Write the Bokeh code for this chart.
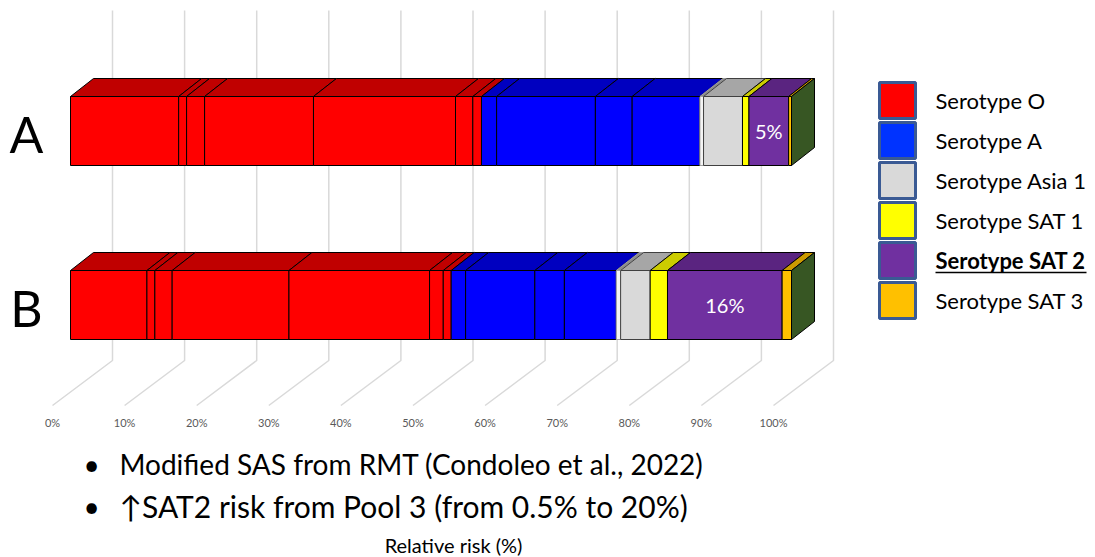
from bokeh.plotting import figure
from bokeh.models import Range1d
from bokeh.embed import file_html
from bokeh.resources import INLINE
from bokeh.core.properties import value

# ---------------- data ----------------
categories = ["A", "B"]
legend_labels = ["Serotype O", "Serotype A", "Serotype Asia 1",
                 "Serotype SAT 1", "Serotype SAT 2", "Serotype SAT 3"]

# stacked segment widths (% of relative risk), in stacking order
A_O = [15.0, 1.1, 2.5, 15.1, 19.7, 2.4, 1.2]
A_A = [2.1, 13.7, 5.1, 9.4]
A_gap = [0.5]
A_Asia1 = [5.4]
A_SAT1 = [0.9]
A_SAT2 = [5.5]
A_SAT3 = [0.4]

B_O = [10.6, 1.1, 2.4, 16.2, 19.5, 1.9, 1.1]
B_A = [2.0, 9.6, 4.1, 7.2]
B_gap = [0.6]
B_Asia1 = [4.1]
B_SAT1 = [2.4]
B_SAT2 = [15.9]
B_SAT3 = [1.3]

sat2_labels = ["5%", "16%"]
tick_values = [0, 10, 20, 30, 40, 50, 60, 70, 80, 90, 100]
tick_labels = ["0%", "10%", "20%", "30%", "40%", "50%", "60%", "70%", "80%", "90%", "100%"]
bullets = ["Modified SAS from RMT (Condoleo et al., 2022)",
           "\u2191SAT2 risk from Pool 3 (from 0.5% to 20%)"]
x_title = "Relative risk (%)"

# ---------------- styles ----------------
FRONT = {"O": "#FF0000", "A": "#0000FF", "gap": "#F4F4F4", "Asia1": "#D9D9D9",
         "SAT1": "#FFFF00", "SAT2": "#7030A0", "SAT3": "#FFC000"}
TOP = {"O": "#C00000", "A": "#0000C0", "gap": "#8C8C8C", "Asia1": "#A6A6A6",
       "SAT1": "#CCCC00", "SAT2": "#5A2480", "SAT3": "#CC9A00"}
EDGE = {"O": "black", "A": "black", "gap": "#A0A0A0", "Asia1": "#404040",
        "SAT1": "black", "SAT2": "black", "SAT3": "black"}
SIDE = "#375623"
LEG_COLORS = ["#FF0000", "#0033FF", "#D9D9D9", "#FFFF00", "#7030A0", "#FFC000"]
FONT = "Lato"

W, H = 1095, 557
PX_PER_X = 7.21      # pixels per 1 %
X0_PX = 70           # px of 0 %
PX_PER_Y = 174.0     # pixels per category unit
Y0_PX = 304.5        # px (from top) of category B centre


def xp(px):  # pixel -> x data
    return (px - X0_PX) / PX_PER_X


def yp(px):  # pixel (from top) -> y data
    return (Y0_PX - px) / PX_PER_Y


p = figure(width=W, height=H, output_backend="svg", toolbar_location=None,
           x_range=Range1d(xp(0), xp(W)), y_range=Range1d(yp(H), yp(0)),
           min_border=0, min_border_left=0, min_border_right=0,
           min_border_top=0, min_border_bottom=0)
p.axis.visible = False
p.grid.visible = False
p.outline_line_color = None
p.background_fill_color = "white"

# depth of the 3-D effect
DX = 23 / PX_PER_X
DY = 18 / PX_PER_Y
HALF = 34.5 / PX_PER_Y

# ---------------- back wall gridlines + floor ----------------
back_off = 42 / PX_PER_X
floor_dx = 60 / PX_PER_X
g_top, g_bot, g_front = yp(10), yp(360), yp(405)
gx, gy = [], []
for t in tick_values:
    gx.append([t + back_off, t + back_off, t + back_off - floor_dx])
    gy.append([g_top, g_bot, g_front])
p.multi_line(gx, gy, line_color="#D9D9D9", line_width=1.5)

p.text(x=[t + back_off - floor_dx for t in tick_values], y=[yp(422)] * len(tick_values),
       text=tick_labels, text_font=value(FONT), text_font_size="11px",
       text_color="#595959", text_align="center", text_baseline="middle")

# ---------------- bars ----------------
bars = {
    "A": [("O", A_O), ("A", A_A), ("gap", A_gap), ("Asia1", A_Asia1),
          ("SAT1", A_SAT1), ("SAT2", A_SAT2), ("SAT3", A_SAT3)],
    "B": [("O", B_O), ("A", B_A), ("gap", B_gap), ("Asia1", B_Asia1),
          ("SAT1", B_SAT1), ("SAT2", B_SAT2), ("SAT3", B_SAT3)],
}
ycent = {"A": 1.0, "B": 0.0}

for ci, cat in enumerate(categories):
    yc = ycent[cat]
    yb, yt = yc - HALF, yc + HALF
    left = 0.0
    L, R, FC, TC, EC = [], [], [], [], []
    sat2_mid = None
    for key, vals in bars[cat]:
        for v in vals:
            L.append(left)
            R.append(left + v)
            FC.append(FRONT[key])
            TC.append(TOP[key])
            EC.append(EDGE[key])
            if key == "SAT2":
                sat2_mid = left + v / 2
            left += v
    # front faces
    p.quad(left=L, right=R, bottom=yb, top=yt, fill_color=FC, line_color=EC, line_width=1)
    # top faces
    xs = [[l, r, r + DX, l + DX] for l, r in zip(L, R)]
    ys = [[yt, yt, yt + DY, yt + DY] for _ in L]
    p.patches(xs, ys, fill_color=TC, line_color=EC, line_width=1)
    # right side face
    end = R[-1]
    p.patch([end, end, end + DX, end + DX], [yb, yt, yt + DY, yb + DY],
            fill_color=SIDE, line_color="black", line_width=1)
    # SAT 2 value label
    p.text(x=[sat2_mid], y=[yc], text=[sat2_labels[ci]], text_font=value(FONT),
           text_font_size="20px", text_color="white", text_align="center",
           text_baseline="middle")

# category labels
p.text(x=[xp(26), xp(26)], y=[yp(133), yp(307)], text=categories,
       text_font=value(FONT), text_font_size="50px", text_color="black",
       text_align="center", text_baseline="middle")

# ---------------- legend ----------------
leg_x = xp(897)
leg_w = 36 / PX_PER_X
leg_h = 36 / PX_PER_Y
leg_y = [yp(100 + 40 * i) for i in range(len(legend_labels))]
p.rect(x=[leg_x] * len(legend_labels), y=leg_y, width=leg_w, height=leg_h,
       fill_color=LEG_COLORS, line_color="#3A5A94", line_width=3)
for i, lab in enumerate(legend_labels):
    bold = (lab == "Serotype SAT 2")
    p.text(x=[xp(935)], y=[leg_y[i]], text=[lab], text_font=value(FONT),
           text_font_size="22px", text_color="black",
           text_font_style="bold" if bold else "normal",
           text_align="left", text_baseline="middle")
    if bold:
        p.line([xp(935), xp(1086)], [yp(100 + 40 * i + 12)] * 2,
               line_color="black", line_width=1.5)

# ---------------- bullets & axis title ----------------
bullet_sizes = ["28px", "30px"]
for i, b in enumerate(bullets):
    yy = yp(463 + 42 * i)
    p.text(x=[xp(91)], y=[yy], text=["\u2022"], text_font=value(FONT),
           text_font_size="28px", text_align="center", text_baseline="middle",
           text_color="black")
    p.text(x=[xp(119)], y=[yy], text=[b], text_font=value(FONT),
           text_font_size=bullet_sizes[i], text_align="left", text_baseline="middle",
           text_color="black")

p.text(x=[xp(453)], y=[yp(544)], text=[x_title], text_font=value(FONT),
       text_font_size="20px", text_align="center", text_baseline="middle",
       text_color="black")

open("out.html", "w").write(file_html(p, INLINE))
